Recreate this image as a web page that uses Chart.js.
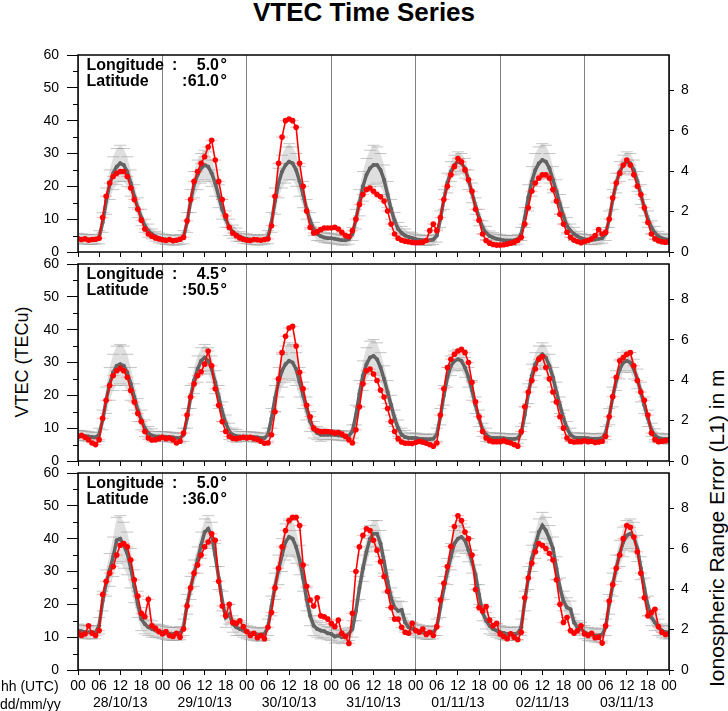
<!DOCTYPE html>
<html lang="en">
<head>
<meta charset="UTF-8">
<title>VTEC Time Series</title>
<style>
    body { margin: 0; background: #fff; font-family: 'Liberation Sans', Arial, sans-serif; }
    #page { position: relative; width: 728px; height: 711px; overflow: hidden; background: #fff; }
    canvas { position: absolute; left: 0; }
    .txt { position: absolute; white-space: nowrap; color: #000; }
    .title { left: 0; width: 728px; top: -1px; text-align: center; font-size: 26px; line-height: 26px; font-weight: bold; }
    .axlab { font-size: 18px; line-height: 18px; transform: translate(-50%, -50%) rotate(-90deg); }
    .rlab { font-size: 21px; line-height: 21px; transform-origin: 0 0; transform: rotate(-90deg); }
    .pos { font-size: 16px; line-height: 16px; font-weight: bold; }
    .small { font-size: 14px; line-height: 14px; }
</style>
<script src="https://cdn.jsdelivr.net/npm/chart.js"></script>
</head>
<body>
<div id="page">
    <div class="txt title">VTEC Time Series</div>
    <div class="txt axlab" style="left:22px;top:362px">VTEC (TECu)</div>
    <div class="txt rlab" style="left:706px;top:687px">Ionospheric Range Error (L1) in m</div>

    <canvas id="c1" width="728" height="217" style="top:45px"></canvas>
    <canvas id="c2" width="728" height="217" style="top:254px"></canvas>
    <canvas id="c3" width="728" height="248" style="top:463px"></canvas>

    <div class="txt small" style="left:1px;top:679px">hh (UTC)</div>
    <div class="txt small" style="left:0px;top:697px">dd/mm/yy</div>
</div>

<script>
    // hours since 28/10/13 00 UT, one value per hour
    const dayLabels = ['28/10/13', '29/10/13', '30/10/13', '31/10/13', '01/11/13', '02/11/13', '03/11/13'];
    const vtecTicks = [0, 10, 20, 30, 40, 50, 60];
    const minorTicks = [5, 15, 25, 35, 45, 55];
    const rangeTicks = [0, 2, 4, 6, 8];
    const tecToMeters = 0.16237; // L1 range error per TECu

    const stations = [
        { lon: '5.0', lat: '61.0' },
        { lon: '4.5', lat: '50.5' },
        { lon: '5.0', lat: '36.0' }
    ];

    // panel 1 (61.0N)
    const p1Red = [
        4.0,3.8,4.0,3.6,3.8,3.9,4.2,10.5,17.0,21.0,23.0,24.0,24.5,24.5,23.0,19.5,16.0,13.0,9.7,7.0,5.5,4.8,4.3,4.0,
        3.7,3.5,3.8,3.4,3.6,3.9,4.5,9.5,16.0,21.5,24.5,27.0,29.0,32.0,34.0,28.0,21.5,16.0,11.0,7.5,5.8,5.0,4.3,3.9,
        3.6,3.5,3.8,3.7,3.6,3.8,4.0,8.0,17.0,27.0,35.0,40.0,40.5,40.0,38.0,27.0,20.0,12.5,7.5,5.8,6.2,6.8,7.3,7.3,
        7.3,7.5,7.0,6.0,5.0,4.7,6.5,10.0,14.5,17.5,19.0,19.5,18.5,17.5,16.8,15.5,12.5,8.5,5.5,4.2,3.6,3.3,3.1,2.9,
        2.8,2.9,3.0,3.5,6.5,8.5,6.5,10.5,16.0,20.0,23.5,26.0,28.5,27.5,25.0,22.0,18.5,13.0,9.7,5.5,3.5,2.7,2.3,2.1,
        2.1,2.2,2.4,2.7,3.0,3.5,4.5,8.5,13.5,18.5,21.0,22.5,23.5,23.5,22.5,19.0,15.5,11.5,8.5,6.0,4.5,3.6,3.2,2.8,
        3.2,3.5,4.0,5.0,6.8,5.5,6.0,10.0,16.5,21.0,24.0,26.5,28.0,26.5,23.5,20.0,17.5,13.5,9.0,5.5,4.0,3.4,3.1,3.0,
        3.1
    ];
    const p1Med = [
        4.2,4.0,3.9,3.8,3.8,3.9,4.5,9.0,15.5,20.5,24.0,26.0,27.0,26.5,24.5,21.0,17.0,13.5,10.5,8.0,6.5,5.5,4.8,4.3,
        4.0,3.8,3.7,3.6,3.6,3.8,4.5,9.0,15.5,20.5,23.5,25.5,26.5,26.0,24.0,21.0,17.0,13.0,10.0,7.5,6.2,5.3,4.7,4.2,
        4.0,3.8,3.7,3.6,3.7,3.9,4.5,9.0,15.5,21.0,24.5,26.5,27.5,27.0,25.0,21.5,17.5,13.0,9.5,7.0,5.5,4.8,4.4,4.2,
        4.2,4.0,3.8,3.6,3.6,3.9,5.5,10.0,15.0,20.0,23.5,25.5,26.5,26.5,25.0,22.0,17.5,13.0,9.5,7.0,5.8,5.0,4.6,4.3,
        3.9,3.7,3.6,3.5,3.6,3.8,5.0,10.0,16.0,21.0,24.5,26.5,27.5,27.0,25.5,22.0,18.0,14.0,10.5,7.5,5.8,4.9,4.4,4.0,
        3.8,3.6,3.5,3.5,3.6,3.9,5.5,10.5,16.5,21.5,25.0,27.0,28.0,27.5,25.5,22.0,18.5,14.5,11.0,8.0,6.5,5.5,4.8,4.2,
        3.9,3.8,3.7,3.8,4.0,4.2,5.5,10.0,16.0,21.0,24.5,26.5,27.5,27.0,25.0,21.5,17.5,13.5,10.0,7.5,5.8,4.8,4.2,3.9,
        3.8
    ];
    const p1Err = [
        1.5,1.5,1.5,1.5,1.5,1.5,2,3,4,4.5,5,5.5,5.5,5,4.5,4,3.5,3,2.5,2,2,1.5,1.5,1.5,
        1.5,1.5,1.5,1.5,1.5,1.5,2,3,3.5,4,4.5,4.5,4.5,4.5,4,4,3.5,3,2.5,2.5,2,2,1.5,1.5,
        1.5,1.5,1.5,1.5,1.5,1.5,2,3,4,4.5,5,5.5,5.5,5,5,4.5,4,3,2.5,2,2,1.5,1.5,1.5,
        1.5,1.5,1.5,1.5,1.5,1.5,2,3,4,4.5,5,5.5,6,5.5,5,4.5,4,3,2.5,2,2,2,1.5,1.5,
        1.5,1.5,1.5,1.5,1.5,1.5,2,2.5,3,3,3,3,3,3,3,3,3,2.5,2.5,2,2,1.5,1.5,1.5,
        1.5,1.5,1.5,1.5,1.5,1.5,2,3,4,4.5,5,5,5,5,4.5,4,3.5,3,2.5,2.5,2,2,1.5,1.5,
        1.5,1.5,1.5,1.5,1.5,1.5,2,2.5,3,3,3,3,3,3,3,3,3,2.5,2.5,2,2,1.5,1.5,1.5,
        1.5
    ];

    // panel 2 (50.5N)
    const p2Red = [
        7.5,7.8,7.2,6.5,5.5,5.0,6.5,13.0,18.5,23.0,26.0,27.5,28.2,27.5,25.5,21.5,18.0,14.5,12.0,9.0,7.0,6.4,6.5,6.8,
        7.2,6.8,7.0,6.5,5.5,6.0,8.5,14.0,19.5,23.5,26.0,27.2,29.5,33.5,29.0,22.0,17.0,12.0,9.0,7.5,6.9,6.8,7.0,7.2,
        7.0,7.2,6.8,6.6,6.0,5.4,5.5,8.0,15.0,25.0,33.0,38.0,40.5,41.0,35.0,27.0,22.0,17.0,13.5,10.0,9.2,8.9,9.0,9.0,
        8.8,8.5,8.7,8.2,7.5,6.5,5.5,9.5,16.5,23.5,27.5,28.0,26.5,24.5,21.6,19.5,16.0,12.0,9.0,6.8,5.8,5.4,5.4,5.3,
        5.6,6.0,5.8,5.4,5.0,4.5,5.5,14.0,22.0,28.5,31.0,32.5,33.5,34.0,33.0,30.0,24.0,18.0,13.5,9.0,7.0,6.2,5.9,5.9,
        5.9,6.2,5.8,5.5,5.0,4.5,9.0,16.5,21.0,24.5,28.0,31.0,31.8,28.5,25.0,21.0,18.0,13.5,10.0,7.0,6.0,5.8,5.9,5.9,
        6.2,5.9,6.0,5.6,5.8,6.0,7.5,13.5,19.6,25.5,30.5,31.5,32.5,33.0,29.0,24.5,21.0,18.5,14.0,8.5,6.5,5.9,6.0,6.2,
        6.4
    ];
    const p2Med = [
        7.8,7.8,7.6,7.5,7.3,7.2,8.0,12.5,18.5,23.5,27.0,29.0,29.5,29.0,27.0,23.5,19.5,15.5,12.5,10.0,8.5,7.8,7.5,7.5,
        7.5,7.4,7.3,7.2,7.0,7.0,8.0,13.0,19.5,24.5,28.0,30.5,31.5,30.5,28.0,24.0,19.5,15.0,11.5,9.0,8.0,7.6,7.5,7.5,
        7.5,7.4,7.3,7.2,7.0,7.0,8.0,13.0,19.0,24.0,27.5,29.5,30.5,30.0,28.0,24.0,20.0,16.0,12.0,9.5,8.5,8.0,8.0,8.0,
        8.0,8.0,7.8,7.7,7.6,7.7,9.0,14.0,20.5,26.0,29.5,31.5,32.0,31.0,28.5,25.0,21.0,17.0,13.0,10.0,8.0,7.3,7.0,7.0,
        7.0,6.8,6.7,6.6,6.6,6.8,8.0,13.5,20.0,25.5,29.0,30.5,31.0,30.5,28.5,25.5,21.5,17.0,13.0,9.5,8.0,7.2,7.0,7.0,
        7.0,6.9,6.8,6.7,6.7,6.9,8.5,14.0,20.5,26.0,29.5,31.5,32.5,31.5,29.0,25.5,21.0,17.0,13.0,10.0,8.0,7.2,7.0,7.0,
        7.0,6.9,6.8,6.8,6.8,7.0,8.5,13.5,19.5,24.5,28.0,30.0,30.5,30.0,28.0,25.0,21.0,17.0,13.0,9.5,7.8,7.0,6.8,6.7,
        6.7
    ];
    const p2Err = [
        1.5,1.5,1.5,1.5,1.5,1.5,2,3,4,5,5.5,6,6,6,5.5,5,4,3.5,3,2.5,2,2,1.5,1.5,
        1.5,1.5,1.5,1.5,1.5,1.5,2,3,3.5,4,4,4,4,4,4,3.5,3.5,3,2.5,2.5,2,2,1.5,1.5,
        1.5,1.5,1.5,1.5,1.5,1.5,2,3,4,4.5,5,5.5,5.5,5.5,5,4.5,4,3.5,3,2.5,2,2,1.5,1.5,
        1.5,1.5,1.5,1.5,1.5,1.5,2,3,4,4.5,5,5,5,5,4.5,4,3.5,3,2.5,2.5,2,2,1.5,1.5,
        1.5,1.5,1.5,1.5,1.5,1.5,2,2.5,3,3,3,3,3,3,3,3,3,2.5,2.5,2,2,1.5,1.5,1.5,
        1.5,1.5,1.5,1.5,1.5,1.5,2,2.5,3,3.5,3.5,3.5,3.5,3.5,3.5,3,3,2.5,2.5,2,2,1.5,1.5,1.5,
        1.5,1.5,1.5,1.5,1.5,1.5,2,2.5,3,3,3,3,3,3,3,3,3,2.5,2.5,2,2,1.5,1.5,1.5,
        1.5
    ];

    // panel 3 (36.0N)
    const p3Red = [
        11.5,10.5,11.0,13.5,11.2,10.5,12.0,23.0,27.0,29.5,31.5,35.0,38.0,38.5,37.5,33.5,27.5,22.5,17.3,16.2,21.5,13.5,12.7,11.7,
        11.0,11.7,10.5,10.2,11.2,10.0,12.5,19.5,25.0,29.5,32.0,35.0,37.5,39.0,41.5,39.5,27.0,19.5,16.5,20.0,14.5,14.2,15.0,13.2,
        11.7,10.5,11.2,9.8,10.5,9.5,13.0,17.5,25.0,31.0,37.5,42.5,45.5,46.5,46.5,44.0,32.0,25.5,21.3,19.5,22.0,16.5,16.2,15.5,
        14.2,13.2,15.2,11.2,10.2,8.1,17.3,30.0,37.5,41.0,43.0,42.5,39.5,36.5,33.0,28.5,24.0,19.0,15.5,15.5,13.0,11.5,11.2,14.2,
        12.0,11.5,12.5,10.8,11.5,10.5,13.2,21.3,26.4,31.5,37.6,43.7,47.0,45.5,42.0,40.0,35.0,24.5,19.0,18.0,19.3,15.2,13.5,14.2,
        11.0,10.2,9.5,11.0,10.0,9.2,11.5,22.0,28.0,32.5,36.0,38.5,38.0,37.0,35.5,33.5,27.5,20.0,14.5,16.0,12.0,11.2,12.0,13.5,
        11.0,10.5,11.2,9.8,10.0,8.2,13.5,21.0,26.0,31.0,35.0,40.0,44.0,43.5,40.5,36.0,29.5,22.0,16.5,17.5,18.5,13.2,11.5,10.8,
        11.0
    ];
    const p3Med = [
        12.0,11.8,11.5,11.5,11.5,11.5,13.5,21.0,26.5,30.5,34.5,39.5,40.0,38.0,35.5,31.0,25.5,20.0,15.5,14.0,13.0,12.5,12.0,11.8,
        11.5,11.3,11.0,11.0,11.0,11.2,13.0,20.0,25.0,29.5,33.5,38.0,42.0,43.0,41.0,35.0,28.0,21.0,16.0,17.0,14.0,13.0,12.5,12.0,
        11.5,11.2,11.0,10.8,10.8,11.0,13.0,19.5,25.5,30.5,35.0,39.0,40.5,40.0,37.5,33.5,28.0,21.5,16.5,13.5,12.5,12.0,11.8,11.2,
        11.0,10.2,10.5,10.0,10.5,11.0,12.5,18.0,25.0,31.0,36.0,40.0,41.5,41.5,38.5,33.0,27.0,22.0,19.0,18.0,18.3,14.5,13.0,12.5,
        12.0,11.8,11.5,11.3,11.3,11.5,13.0,19.0,25.0,30.0,34.5,38.5,40.0,40.5,39.5,36.5,33.0,29.0,23.0,17.5,15.0,13.5,12.5,12.0,
        11.5,11.3,11.0,11.0,11.0,11.2,13.0,21.0,28.0,34.0,38.0,42.0,44.0,42.5,40.0,37.0,31.0,25.0,21.0,19.0,18.5,14.5,13.0,12.5,
        11.5,11.0,10.8,10.5,10.5,10.8,13.0,20.0,26.0,31.0,35.5,39.0,41.0,41.5,40.5,37.0,31.0,25.0,19.5,16.0,14.5,13.0,12.0,11.5,
        11.5
    ];
    const p3Err = [
        2,2,2,2,2,2,2.5,3,4,5,6,7,7,7,6.5,6,5,4,3.5,3,2.5,2.5,2,2,
        2,2,2,2,2,2,2.5,3,3.5,4,4,4,4,4,4,3.5,3.5,3,3,3,2.5,2.5,2,2,
        2,2,2,2,2,2,2.5,3,4,4.5,5,5.5,5.5,5.5,5,4.5,4,3.5,3,3,2.5,2.5,2,2,
        2,2,2,2,2,2,2.5,3,3.5,4,4,4,4,4,4,3.5,3.5,3,3,3,2.5,2.5,2,2,
        2,2,2,2,2,2,2.5,3,3.5,4,4,4,4,4,4,3.5,3.5,3,3,2.5,2.5,2.5,2,2,
        2,2,2,2,2,2,2.5,3,3.5,4,4,4,4,4,4,3.5,3.5,3,3,3,2.5,2.5,2,2,
        2,2,2,2,2,2,2.5,3,3.5,4,4,4.5,4.5,4.5,4.5,4,3.5,3,3,2.5,2.5,2.5,2,2,
        2
    ];

    const FONT = "'Liberation Sans', Arial, sans-serif";
    Chart.defaults.font.family = FONT;
    Chart.defaults.color = '#000';

    const toXY = arr => arr.map((v, i) => ({ x: i, y: v }));

    // frame round the plot area plus short minor ticks on the VTEC axis
    const framePlugin = {
        id: 'frame',
        afterDraw(chart) {
            const { ctx, chartArea: a, scales } = chart;
            ctx.save();
            ctx.strokeStyle = '#000';
            ctx.lineWidth = 1;
            minorTicks.forEach(v => {
                const y = Math.round(scales.y.getPixelForValue(v)) + 0.5;
                ctx.beginPath();
                ctx.moveTo(a.left - 5, y);
                ctx.lineTo(a.left, y);
                ctx.stroke();
            });
            ctx.lineWidth = 1.5;
            ctx.strokeRect(a.left, a.top, a.right - a.left, a.bottom - a.top);
            ctx.restore();
        }
    };

    // fixed axis boxes so the plot area lands on the same pixels as the original
    function fixV(width) {
        return s => { s.width = width; s.paddingTop = 0; s.paddingBottom = 0; };
    }
    function fixH(height) {
        return s => { s.height = height; s.paddingLeft = 0; s.paddingRight = 0; };
    }

    function makePanel(canvasId, red, med, err, isBottom) {
        const upper = med.map((v, i) => v + err[i]);
        const lower = med.map((v, i) => v - err[i]);
        return new Chart(document.getElementById(canvasId), {
            type: 'line',
            data: {
                datasets: [
                    { // observed VTEC
                        data: toXY(red), borderColor: '#ff0000', borderWidth: 1.6,
                        pointRadius: 2.8, pointBackgroundColor: '#ff0000', pointBorderWidth: 0, fill: false
                    },
                    { // time whiskers on the observed points
                        data: toXY(red), showLine: false, pointStyle: 'line', pointRadius: 6,
                        pointBorderColor: 'rgba(255,80,80,0.4)', pointBorderWidth: 1
                    },
                    { // reference median
                        data: toXY(med), borderColor: '#636363', borderWidth: 3.5,
                        pointRadius: 2, pointBackgroundColor: '#636363', pointBorderWidth: 0, fill: false
                    },
                    { // upper bound + shaded band
                        data: toXY(upper), borderWidth: 0, borderColor: 'rgba(0,0,0,0)',
                        backgroundColor: 'rgba(185,185,185,0.45)', fill: '+1',
                        pointStyle: 'line', pointRadius: 6,
                        pointBorderColor: 'rgba(150,150,150,0.55)', pointBorderWidth: 1
                    },
                    { // lower bound
                        data: toXY(lower), borderWidth: 0, borderColor: 'rgba(0,0,0,0)', fill: false,
                        pointStyle: 'line', pointRadius: 6,
                        pointBorderColor: 'rgba(150,150,150,0.55)', pointBorderWidth: 1
                    }
                ]
            },
            options: {
                responsive: false,
                animation: false,
                devicePixelRatio: 1,
                layout: { padding: { top: 10, left: 0, right: 0, bottom: 0 } },
                plugins: { legend: { display: false }, tooltip: { enabled: false } },
                scales: {
                    x: {
                        type: 'linear', min: 0, max: 168,
                        ticks: {
                            stepSize: 6, display: isBottom, autoSkip: false, maxRotation: 0,
                            padding: 3, color: '#000', font: { size: 14 },
                            callback: v => {
                                const hh = String(v % 24).padStart(2, '0');
                                if (v % 24 === 12) return [hh, dayLabels[Math.floor(v / 24)]];
                                return hh;
                            }
                        },
                        grid: {
                            color: c => (c.tick && c.tick.value % 24 === 0) ? '#808080' : 'rgba(0,0,0,0)',
                            lineWidth: 1, tickColor: '#000', tickLength: 5
                        },
                        border: { display: false },
                        afterFit: fixH(isBottom ? 41 : 10)
                    },
                    y: {
                        position: 'left', min: 0, max: 60,
                        afterBuildTicks: s => { s.ticks = vtecTicks.map(v => ({ value: v })); },
                        ticks: { padding: 8, color: '#000', font: { size: 14 } },
                        grid: { drawOnChartArea: false, tickLength: 11, tickColor: '#000' },
                        border: { display: false },
                        afterFit: fixV(78)
                    },
                    y2: {
                        position: 'right', min: 0, max: 60 * tecToMeters,
                        afterBuildTicks: s => { s.ticks = rangeTicks.map(v => ({ value: v })); },
                        ticks: { padding: 7, color: '#000', font: { size: 14 } },
                        grid: { drawOnChartArea: false, tickLength: 5, tickColor: '#000' },
                        border: { display: false },
                        afterFit: fixV(59)
                    }
                }
            },
            plugins: [framePlugin]
        });
    }

    makePanel('c1', p1Red, p1Med, p1Err, false);
    makePanel('c2', p2Red, p2Med, p2Err, false);
    makePanel('c3', p3Red, p3Med, p3Err, true);

    // station labels in the top-left corner of each panel
    const page = document.getElementById('page');
    const panelTops = [55, 264, 473];
    stations.forEach((s, i) => {
        const t = panelTops[i];
        const rows = [['Longitude', s.lon, 172, t + 2], ['Latitude', s.lat, 182, t + 18]];
        rows.forEach(([name, val, colonX, top]) => {
            const add = (text, style) => {
                const d = document.createElement('div');
                d.className = 'txt pos';
                d.textContent = text;
                d.style.cssText = style + ';top:' + top + 'px';
                page.appendChild(d);
            };
            add(name, 'left:86.5px');
            add(':', 'left:' + colonX + 'px');
            add(val, 'right:' + (728 - 219) + 'px;text-align:right');
            add('°', 'left:220.5px');
        });
    });
</script>
</body>
</html>
